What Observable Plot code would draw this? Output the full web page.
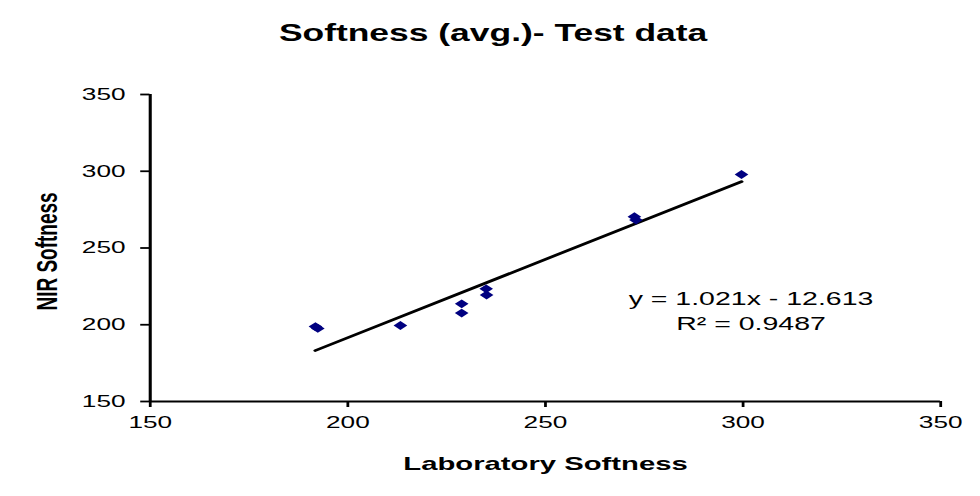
<!DOCTYPE html>
<html><head><meta charset="utf-8">
<script src="https://cdn.jsdelivr.net/npm/d3@7"></script>
<script src="https://cdn.jsdelivr.net/npm/@observablehq/plot@0.6"></script>
<style>
html,body{margin:0;padding:0;background:#fff;}
#chart svg{display:block;}
</style></head><body><div id="chart"></div>
<script>
const title = "Softness (avg.)- Test data";
const xLabel = "Laboratory Softness";
const yLabel = "NIR Softness";
const labSoftness = [191.8, 192.4, 213.3, 228.8, 228.8, 235.0, 235.1, 272.5, 272.9, 299.6];
const nirSoftness = [198.8, 197.6, 199.5, 213.6, 207.6, 223.4, 219.4, 270.4, 268.2, 297.9];
const xTicks = [150, 200, 250, 300, 350];
const yTicks = [150, 200, 250, 300, 350];
const trendSlope = 1.021;
const trendIntercept = -12.613;
const equationLines = ["y = 1.021x - 12.613", "R\u00B2 = 0.9487"];

const STRETCH = 1.541;
const W = 636, H = 496;
const points = labSoftness.map((x, i) => ({x, y: nirSoftness[i]}));
const xMin = d3.min(labSoftness), xMax = d3.max(labSoftness);
const trend = [xMin, xMax].map(x => ({x, y: trendSlope * x + trendIntercept}));
const font = "'Liberation Sans', Arial, sans-serif";

const plot = Plot.plot({
  width: W, height: H,
  marginLeft: 97, marginRight: 26, marginTop: 94, marginBottom: 95,
  style: {fontFamily: font, fontSize: "17px", background: "#fff", color: "#000"},
  x: {domain: [150, 350], label: null},
  y: {domain: [150, 350], label: null},
  marks: [
    Plot.axisX({ticks: xTicks, tickSize: 6, tickPadding: 8, fontSize: 17, strokeWidth: 1.8, label: null}),
    Plot.axisY({ticks: yTicks, tickSize: 6, tickPadding: 10, fontSize: 17, strokeWidth: 1.8, label: null}),
    Plot.ruleX([150], {strokeWidth: 2, stroke: "#000"}),
    Plot.ruleY([150], {strokeWidth: 2, stroke: "#000"}),
    Plot.line(trend, {x: "x", y: "y", stroke: "#000", strokeWidth: 2.6}),
    Plot.dot(points, {x: "x", y: "y", symbol: "diamond2", r: 4, fill: "#000080", stroke: "none"}),
    Plot.text([equationLines[0]], {x: 302, y: 217, fontSize: 18.5, fill: "#000"}),
    Plot.text([equationLines[1]], {x: 302, y: 200.3, fontSize: 18.5, fill: "#000"}),
    Plot.text([title], {frameAnchor: "top", dx: -34, dy: -70, fontSize: 23, fontWeight: "bold", fill: "#000"}),
    Plot.text([xLabel], {frameAnchor: "bottom", dy: 68, fontSize: 19, fontWeight: "bold", fill: "#000"}),
    Plot.text([yLabel], {frameAnchor: "left", textAnchor: "middle", rotate: -90, dx: -66.5, dy: 3.5, fontSize: 19, fontWeight: "bold", fill: "#000"})
  ]
});
plot.setAttribute("preserveAspectRatio", "none");
plot.setAttribute("width", 980);
plot.setAttribute("height", 496);
plot.style.width = "980px";
plot.style.height = "496px";
plot.style.maxWidth = "none";
document.getElementById("chart").appendChild(plot);
</script>
</body></html>
